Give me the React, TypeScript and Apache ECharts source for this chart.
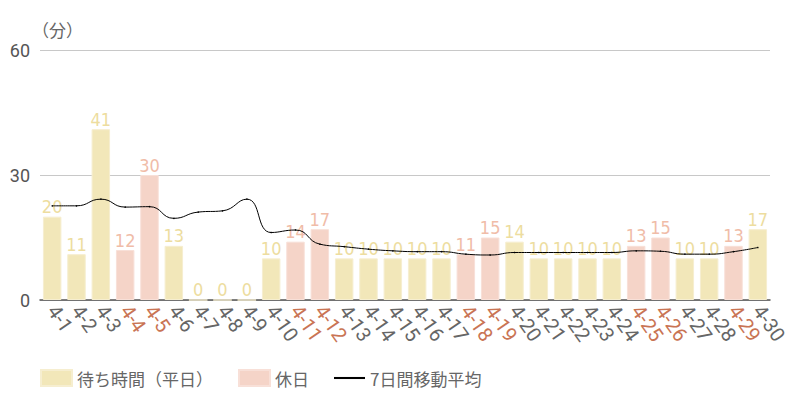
import * as echarts from 'echarts';
import { useEffect, useRef } from 'react';

// 日付
const days: string[] = Array.from({ length: 30 }, (_, i) => `4-${i + 1}`);
// 休日
const holidays: string[] = ['4-4', '4-5', '4-11', '4-12', '4-18', '4-19', '4-25', '4-26', '4-29'];
// 待ち時間（分）
const waitTimes: number[] = [
  20, 11, 41, 12, 30, 13, 0, 0, 0, 10,
  14, 17, 10, 10, 10, 10, 10, 11, 15, 14,
  10, 10, 10, 10, 13, 15, 10, 10, 13, 17,
];
// 7日間移動平均
const movingAvg: number[] = [
  22.6, 22.6, 24.2, 22.3, 22.4, 19.6, 21.1, 21.4, 24.2, 16.2,
  16.8, 13.4, 12.8, 12.2, 11.8, 11.6, 11.6, 11.0, 10.8, 11.4,
  11.4, 11.4, 11.4, 11.4, 11.8, 11.7, 11.0, 11.0, 11.6, 12.6,
];
const yTicks = { min: 0, max: 60, interval: 30 };

const WEEKDAY = '#f2e7b9';
const HOLIDAY = '#f5d4c8';

const App: React.FC = () => {
  const chartRef = useRef<HTMLDivElement>(null);

  useEffect(() => {
    if (!chartRef.current) return;
    const chart = echarts.init(chartRef.current, null, { renderer: 'svg' });

    const isHoliday = (d: string) => holidays.includes(d);
    const weekdayData = waitTimes.map((v, i) => (isHoliday(days[i]) ? null : v));
    const holidayData = waitTimes.map((v, i) => (isHoliday(days[i]) ? v : null));

    const barLabel = (color: string) => ({
      show: true,
      position: 'top' as const,
      distance: 1,
      color,
      fontFamily: '"DejaVu Sans Condensed", "Liberation Sans Narrow", Roboto',
      fontSize: 18,
    });

    chart.setOption({
      animation: false,
      textStyle: { fontFamily: 'Roboto, "Noto Sans CJK JP"' },
      grid: { left: 40, right: 30, top: 50, bottom: 100 },
      legend: {
        bottom: 8,
        left: 35,
        itemWidth: 31,
        itemHeight: 16,
        itemGap: 25,
        textStyle: { color: '#666', fontSize: 17, fontFamily: '"Noto Sans CJK JP"' },
        data: [
          { name: '待ち時間（平日）', icon: 'rect' },
          { name: '休日', icon: 'rect' },
          { name: '7日間移動平均', icon: 'path://M0,0 L30,0 L30,2 L0,2 Z', itemStyle: { color: '#000' } },
        ],
      },
      xAxis: {
        type: 'category',
        data: days.map((d) => ({
          value: d,
          textStyle: { color: isHoliday(d) ? '#c97454' : '#666' },
        })),
        axisTick: { show: false },
        axisLine: { lineStyle: { color: '#555', width: 1.5 } },
        axisLabel: {
          interval: 0,
          rotate: -55,
          margin: 7,
          fontSize: 20,
          fontFamily: 'Roboto',
        },
      },
      yAxis: {
        type: 'value',
        ...yTicks,
        name: '（分）',
        nameGap: 11,
        nameTextStyle: { color: '#666', fontSize: 17, align: 'left', padding: [0, 0, 0, -8] },
        axisLabel: { color: '#555', fontSize: 18, margin: 10 },
        splitLine: { lineStyle: { color: '#c8c8c8' } },
      },
      series: [
        {
          name: '待ち時間（平日）',
          type: 'bar',
          data: weekdayData,
          barWidth: '76%',
          barGap: '-100%',
          itemStyle: { color: WEEKDAY, borderColor: '#f6eed0', borderWidth: 1 },
          label: barLabel('#eddd9f'),
        },
        {
          name: '休日',
          type: 'bar',
          data: holidayData,
          barWidth: '76%',
          itemStyle: { color: HOLIDAY, borderColor: '#f8e0d8', borderWidth: 1 },
          label: barLabel('#f0bca8'),
        },
        {
          name: '7日間移動平均',
          type: 'line',
          data: movingAvg,
          smooth: true,
          symbol: 'circle',
          symbolSize: 1.5,
          itemStyle: { color: '#000' },
          lineStyle: { color: '#000', width: 1 },
          z: 5,
        },
      ],
    });

    return () => {
      chart.dispose();
    };
  }, []);

  return <div ref={chartRef} style={{ width: 800, height: 400, margin: -8 }}></div>;
};

export default App;
